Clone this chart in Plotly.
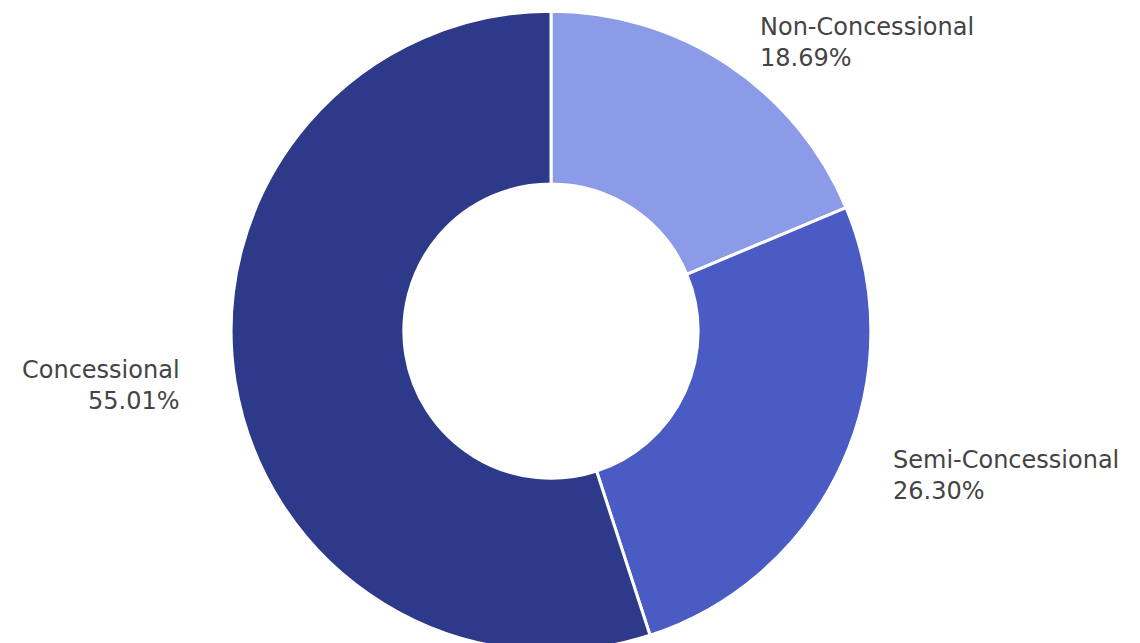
import math
import plotly.graph_objects as go

labels = ["Non-Concessional", "Semi-Concessional", "Concessional"]
values = [18.69, 26.30, 55.01]
colors = ["#8B9BE8", "#4A5BC4", "#2D3989"]

W, H = 1140, 643
dom_x = [0.0, 1086 / W]
dom_y = [0.0, 0.995]

fig = go.Figure(go.Pie(
    labels=labels,
    values=values,
    hole=0.46,
    sort=False,
    direction="clockwise",
    rotation=0,
    textinfo="none",
    hoverinfo="label+percent",
    marker=dict(colors=colors, line=dict(color="white", width=3)),
    domain=dict(x=dom_x, y=dom_y),
    showlegend=False,
))

# outside labels, placed from the slice mid-angles
cx = (dom_x[0] + dom_x[1]) / 2 * W
cy = H - (dom_y[0] + dom_y[1]) / 2 * H
r = min((dom_x[1] - dom_x[0]) * W, (dom_y[1] - dom_y[0]) * H) / 2 - 1.5
total = sum(values)
cum = 0.0
for lab, v in zip(labels, values):
    mid = (cum + v / 2) / total * 2 * math.pi
    cum += v
    s, c = math.sin(mid), math.cos(mid)
    px = cx + 1.175 * r * s
    py = cy - 1.09 * r * c
    right = s >= 0
    fig.add_annotation(
        x=px / W, y=1 - py / H, xref="paper", yref="paper",
        text=f"{lab}<br>{v / total * 100:.2f}%",
        showarrow=False,
        xanchor="left" if right else "right",
        yanchor="middle",
        align="left" if right else "right",
        font=dict(family="DejaVu Sans", size=24, color="#444"),
    )

fig.update_layout(
    width=W, height=H,
    margin=dict(l=0, r=0, t=0, b=0),
    paper_bgcolor="white",
    plot_bgcolor="white",
    font=dict(family="DejaVu Sans", color="#444"),
)

fig.write_html("out.html")
